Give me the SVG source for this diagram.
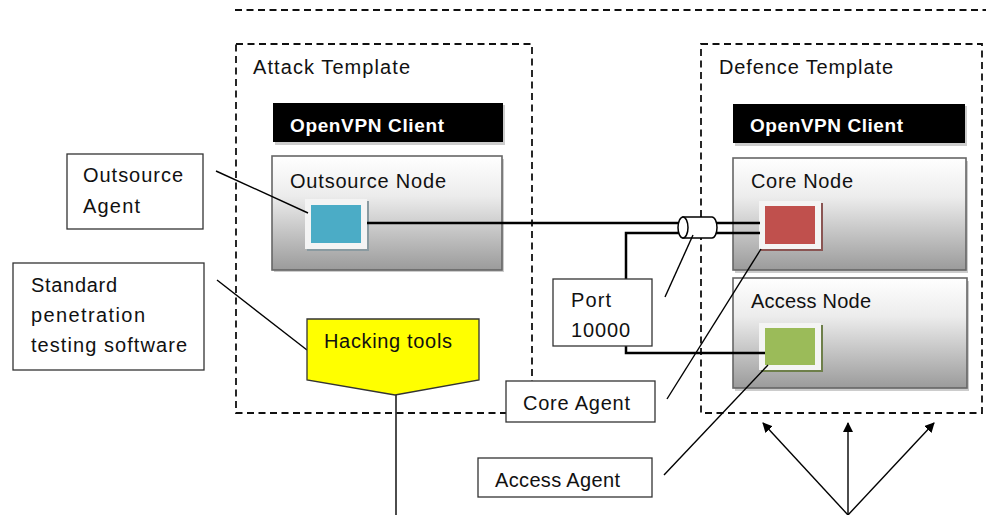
<svg xmlns="http://www.w3.org/2000/svg" width="986" height="515" viewBox="0 0 986 515">
<style>
text{font-family:"Liberation Sans",Arial,sans-serif;font-size:20px;fill:#111}
.dash{fill:none;stroke:#111;stroke-width:1.8;stroke-dasharray:7,4.5}
.lbl{fill:#fff;stroke:#333;stroke-width:1.3}
.node{fill:url(#g);stroke:#666;stroke-width:1.6}
.vpn{fill:#000}
.vpnt{fill:#fff;font-weight:bold;font-size:19px}
.thick{stroke:#000;stroke-width:2.5;fill:none}
.thin{stroke:#000;stroke-width:1.4;fill:none}
.frame{fill:#f4f4f4}
</style>
<defs>
<linearGradient id="g" x1="0" y1="0" x2="0" y2="1">
<stop offset="0" stop-color="#ffffff"/>
<stop offset="0.35" stop-color="#ececec"/>
<stop offset="1" stop-color="#9b9b9b"/>
</linearGradient>
<marker id="ah" viewBox="0 0 10 10" refX="9" refY="5" markerWidth="10" markerHeight="10" markerUnits="userSpaceOnUse" orient="auto"><path d="M0,0 L10,5 L0,10 z" fill="#000"/></marker>
</defs>
<rect width="986" height="515" fill="#fff"/>
<line x1="235" y1="10" x2="986" y2="10" class="dash"/>
<g id="attack-template">
<rect x="236" y="44" width="296" height="369" class="dash"/>
<text x="253" y="74" textLength="157" lengthAdjust="spacing">Attack Template</text>
</g>
<g id="defence-template">
<rect x="701" y="44" width="281" height="369" class="dash"/>
<text x="719" y="74" textLength="174" lengthAdjust="spacing">Defence Template</text>
</g>
<g id="attack-vpn">
<rect x="275" y="105" width="230" height="40" fill="#ccc"/>
<rect x="273" y="103" width="230" height="39" class="vpn"/>
<text x="290" y="132" class="vpnt" textLength="154" lengthAdjust="spacing">OpenVPN Client</text>
</g>
<g id="outsource-node">
<rect x="274" y="159" width="230" height="113" fill="#ccc"/>
<rect x="272" y="156" width="230" height="114" class="node"/>
<text x="290" y="188" textLength="156" lengthAdjust="spacing">Outsource Node</text>
<rect x="307" y="201" width="62" height="50" fill="#8a9aa0"/>
<rect x="305" y="199" width="62" height="50" class="frame"/>
<rect x="311" y="205" width="50" height="38" fill="#4bacc6"/>
</g>
<g id="defence-vpn">
<rect x="735" y="106" width="232" height="40" fill="#ccc"/>
<rect x="733" y="104" width="232" height="39" class="vpn"/>
<text x="750" y="132" class="vpnt" textLength="153" lengthAdjust="spacing">OpenVPN Client</text>
</g>
<g id="core-node">
<rect x="735" y="161" width="233" height="112" fill="#ccc"/>
<rect x="733" y="158" width="233" height="112" class="node"/>
<text x="751" y="188" textLength="102" lengthAdjust="spacing">Core Node</text>
<rect x="761" y="203" width="62" height="48" fill="#8a5553"/>
<rect x="759" y="201" width="62" height="48" class="frame"/>
<rect x="765" y="206" width="50" height="38" fill="#c0504d"/>
</g>
<g id="access-node">
<rect x="735" y="281" width="234" height="110" fill="#ccc"/>
<rect x="733" y="278" width="234" height="110" class="node"/>
<text x="751" y="308" textLength="120" lengthAdjust="spacing">Access Node</text>
<rect x="761" y="325" width="62" height="47" fill="#6e7f4a"/>
<rect x="759" y="323" width="62" height="47" class="frame"/>
<rect x="765" y="328" width="50" height="37" fill="#9bbb59"/>
</g>
<g id="connectors">
<line x1="367" y1="223" x2="683" y2="223" class="thick"/>
<polyline points="683,233 626,233 626,279" class="thick"/>
<polyline points="626,346 626,353 765,353" class="thick"/>
<line x1="712" y1="223" x2="760" y2="223" class="thick"/>
<line x1="712" y1="233" x2="760" y2="233" class="thick"/>
<path d="M683,217 L712,217 A5,10.5 0 0 1 712,238 L683,238 Z" fill="#fff" stroke="#000" stroke-width="1.5"/>
<ellipse cx="683" cy="227.5" rx="5" ry="10.5" fill="#fff" stroke="#000" stroke-width="1.5"/>
<line x1="216" y1="171" x2="308" y2="213" class="thin"/>
<line x1="217" y1="280" x2="307" y2="350" class="thin"/>
<line x1="665" y1="297" x2="693" y2="235" class="thin"/>
<line x1="667" y1="399" x2="761" y2="249" class="thin"/>
<line x1="664" y1="475" x2="768" y2="365" class="thin"/>
<line x1="396" y1="395" x2="396" y2="515" class="thin"/>
<line x1="848" y1="515" x2="763" y2="423" class="thin" marker-end="url(#ah)"/>
<line x1="848" y1="515" x2="848" y2="423" class="thin" marker-end="url(#ah)"/>
<line x1="848" y1="515" x2="934" y2="423" class="thin" marker-end="url(#ah)"/>
</g>
<g id="outsource-agent">
<rect x="67" y="154" width="136" height="75" class="lbl"/>
<text x="83" y="182" textLength="100" lengthAdjust="spacing">Outsource</text>
<text x="83" y="213" textLength="57" lengthAdjust="spacing">Agent</text>
</g>
<g id="standard-software">
<rect x="13" y="263" width="191" height="107" class="lbl"/>
<text x="31" y="292" textLength="86" lengthAdjust="spacing">Standard</text>
<text x="31" y="322" textLength="114" lengthAdjust="spacing">penetration</text>
<text x="31" y="352" textLength="156" lengthAdjust="spacing">testing software</text>
</g>
<g id="hacking-tools">
<polygon points="307,319 479,319 479,380 395,395 307,380" fill="#ffff00" stroke="#333" stroke-width="1.3"/>
<text x="324" y="348" textLength="128" lengthAdjust="spacing">Hacking tools</text>
</g>
<g id="port">
<rect x="553" y="279" width="99" height="67" class="lbl"/>
<text x="571" y="307" textLength="40" lengthAdjust="spacing">Port</text>
<text x="571" y="337" textLength="59" lengthAdjust="spacing">10000</text>
</g>
<g id="core-agent">
<rect x="506" y="381" width="149" height="41" class="lbl"/>
<text x="523" y="410" textLength="107" lengthAdjust="spacing">Core Agent</text>
</g>
<g id="access-agent">
<rect x="478" y="458" width="174" height="39" class="lbl"/>
<text x="495" y="487" textLength="125" lengthAdjust="spacing">Access Agent</text>
</g>
</svg>
